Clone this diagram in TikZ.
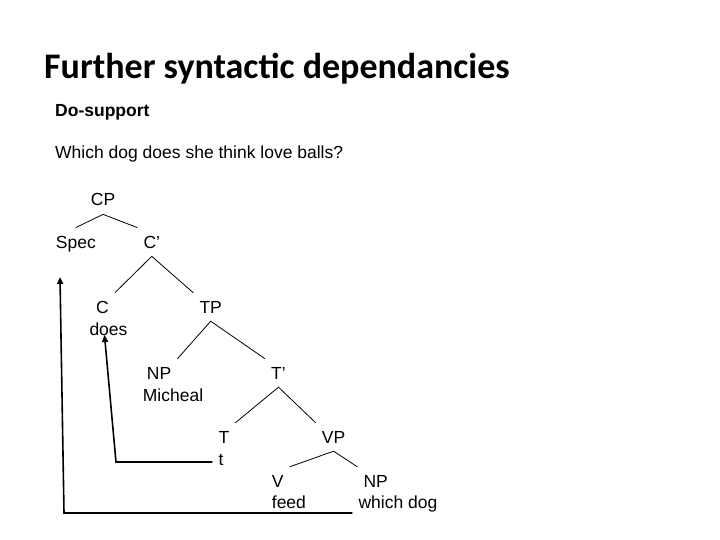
\documentclass[tikz,border=0pt]{standalone}
\usepackage{fontspec}
\setmainfont{Liberation Sans}
\newfontfamily\titlefont{Carlito}
\usetikzlibrary{arrows.meta}

\tikzset{
  lbl/.style={font=\fontsize{17.5}{21}\selectfont, inner xsep=6pt, inner ysep=8pt,
    anchor=base west, xshift=-6pt},
  branch/.style={line width=0.8pt},
  move/.style={line width=1.6pt, -{Triangle[length=7pt,width=6pt]}},
}

\begin{document}
\begin{tikzpicture}[x=1pt,y=-1pt]
    \useasboundingbox (0,0) rectangle (720,540);

    % Heading
    \node[anchor=base west, inner sep=0pt, font=\titlefont\bfseries\fontsize{36}{43}\selectfont]
        (title) at (44,79) {Further syntactic dependancies};
    \node[lbl, font=\bfseries\fontsize{17.5}{21}\selectfont] (sub) at (55,117) {Do-support};
    \node[lbl] (sentence) at (55,159) {Which dog does she think love balls?};

    % Tree labels
    \node[lbl] (cp)    at (90.7,206)  {CP};
    \node[lbl] (spec)  at (55.7,248)  {Spec};
    \node[lbl] (cbar)  at (143.3,248) {C’};
    \node[lbl] (c)     at (96,313)    {C};
    \node[lbl] (does)  at (89.3,335)  {does};
    \node[lbl] (tp)    at (199.3,313) {TP};
    \node[lbl] (np)    at (146.7,379) {NP};
    \node[lbl] (subj)  at (142.7,401) {Micheal};
    \node[lbl] (tbar)  at (271,379)   {T’};
    \node[lbl] (t)     at (218.3,443) {T};
    \node[lbl] (trace) at (218.3,465) {t};
    \node[lbl] (vp)    at (321.7,443) {VP};
    \node[lbl] (v)     at (271.7,487) {V};
    \node[lbl] (feed)  at (271.7,508) {feed};
    \node[lbl] (obj)   at (363.3,487) {NP};
    \node[lbl] (which) at (358.3,508) {which dog};

    % Branches
    \draw[branch] (spec.north) -- (cp.south) -- (cbar.north west);
    \foreach \p/\l/\r in {cbar/c/tp, tp/np/tbar, tbar/t/vp, vp/v/obj} {
        \draw[branch] (\l.north east) -- (\p.south) -- (\r.north west);
    }

    % Movement arrows
    \coordinate (bend1) at (64,513);
    \coordinate (gap)   at (60,277);
    \draw[move] ([yshift=-5pt]which.base west) -- (bend1) -- (gap);
    \coordinate (bend2) at (116,462);
    \draw[move] ([yshift=3pt]trace.base west) -- (bend2) -- ([xshift=-4pt]does.base);

\end{tikzpicture}
\end{document}
